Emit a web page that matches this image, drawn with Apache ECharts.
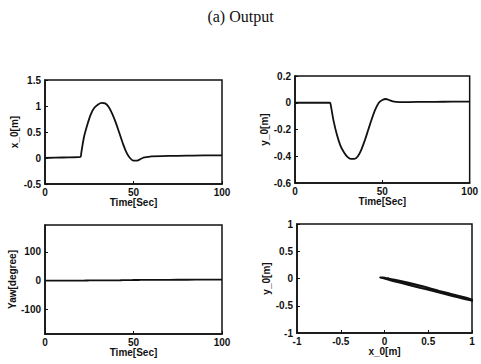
<!DOCTYPE html>
<html>
<head>
<meta charset="utf-8">
<script src="https://cdn.jsdelivr.net/npm/echarts@6/dist/echarts.min.js"></script>
<style>
  html, body { margin: 0; padding: 0; background: #fff; }
  #main { width: 481px; height: 364px; }
</style>
</head>
<body>
<div id="main"></div>
<script>
// time samples [sec]
const time = [0, 10, 20, 20.5, 22, 24, 26, 28, 30, 32, 34, 36, 38, 40, 42, 44, 46, 48, 50, 52, 54, 56, 58, 60, 70, 80, 90, 100];
// x_0 [m]
const xPos = [0, 0.01, 0.02, 0.1, 0.4, 0.65, 0.85, 0.97, 1.03, 1.06, 1.05, 0.98, 0.85, 0.68, 0.48, 0.28, 0.11, 0.0, -0.05, -0.05, -0.02, 0.01, 0.02, 0.03, 0.04, 0.045, 0.05, 0.05];
// y_0 [m]
const yPos = [0, 0, 0, -0.02, -0.13, -0.24, -0.32, -0.37, -0.405, -0.42, -0.42, -0.4, -0.35, -0.28, -0.2, -0.12, -0.05, 0.0, 0.02, 0.028, 0.02, 0.01, 0.006, 0.005, 0.006, 0.007, 0.008, 0.008];
// yaw [degree]
const yaw = [0, 0, 0, 0, 0.3, 0.6, 0.8, 1, 1, 1.2, 1.3, 1.2, 1, 1, 1.3, 1.6, 1.8, 2, 2.2, 2.3, 2.4, 2.5, 2.5, 2.6, 3, 3.2, 3.4, 3.5];

const yTicksYaw = [-100, 0, 100];

const txt = { color: '#111', fontFamily: 'Liberation Sans', fontWeight: 'bold', fontSize: 10 };

function pairs(a, b) {
    return a.map((v, i) => [v, b[i]]);
}

function xAx(idx, min, max, interval, name) {
    return {
        type: 'value', gridIndex: idx, min, max, interval,
        name, nameLocation: 'middle', nameGap: 11,
        nameTextStyle: txt,
        axisLine: { show: true, onZero: false, lineStyle: { color: '#111', width: 1.5 } },
        axisTick: { show: true, inside: true, length: 3, lineStyle: { color: '#111' } },
        axisLabel: Object.assign({ margin: 3 }, txt),
        splitLine: { show: false }
    };
}

function yAx(idx, min, max, interval, name, gap) {
    return {
        type: 'value', gridIndex: idx, min, max, interval,
        name, nameLocation: 'middle', nameGap: gap, nameRotate: 90,
        nameTextStyle: txt,
        axisLine: { show: true, onZero: false, lineStyle: { color: '#111', width: 1.5 } },
        axisTick: { show: true, inside: true, length: 3, lineStyle: { color: '#111' } },
        axisLabel: Object.assign({ margin: 4 }, txt),
        splitLine: { show: false }
    };
}

const box = { show: true, borderColor: '#111', borderWidth: 1.5, backgroundColor: '#fff' };

const yawAxis = yAx(2, -185, 193, null, 'Yaw[degree]', 28);
delete yawAxis.interval;
yawAxis.axisLabel.customValues = yTicksYaw;
yawAxis.axisTick.customValues = yTicksYaw;

const line = (xi, data, w) => ({
    type: 'line', xAxisIndex: xi, yAxisIndex: xi, data,
    showSymbol: false, symbol: 'none', smooth: 0.3, clip: true,
    lineStyle: { color: '#111', width: w }
});

const chart = echarts.init(document.getElementById('main'), null, { renderer: 'svg' });
chart.setOption({
    animation: false,
    backgroundColor: '#fff',
    title: {
        text: '(a) Output', left: 'center', top: 3,
        textStyle: { fontFamily: 'Liberation Serif', fontWeight: 'normal', fontSize: 16, color: '#111' }
    },
    grid: [
        Object.assign({ left: 45, top: 80, width: 177, height: 104 }, box),
        Object.assign({ left: 295, top: 76, width: 177, height: 107 }, box),
        Object.assign({ left: 45, top: 225, width: 177, height: 109 }, box),
        Object.assign({ left: 297, top: 224, width: 175, height: 109 }, box)
    ],
    xAxis: [
        xAx(0, 0, 100, 50, 'Time[Sec]'),
        xAx(1, 0, 100, 50, 'Time[Sec]'),
        xAx(2, 0, 100, 50, 'Time[Sec]'),
        xAx(3, -1, 1, 0.5, 'x_0[m]')
    ],
    yAxis: [
        yAx(0, -0.5, 1.5, 0.5, 'x_0[m]', 22),
        yAx(1, -0.6, 0.2, 0.2, 'y_0[m]', 26),
        yawAxis,
        yAx(3, -1, 1, 0.5, 'y_0[m]', 22)
    ],
    series: [
        line(0, pairs(time, xPos), 1.8),
        line(1, pairs(time, yPos), 1.8),
        line(2, pairs(time, yaw), 1.8),
        line(3, pairs(xPos, yPos), 2)
    ]
});
</script>
</body>
</html>
